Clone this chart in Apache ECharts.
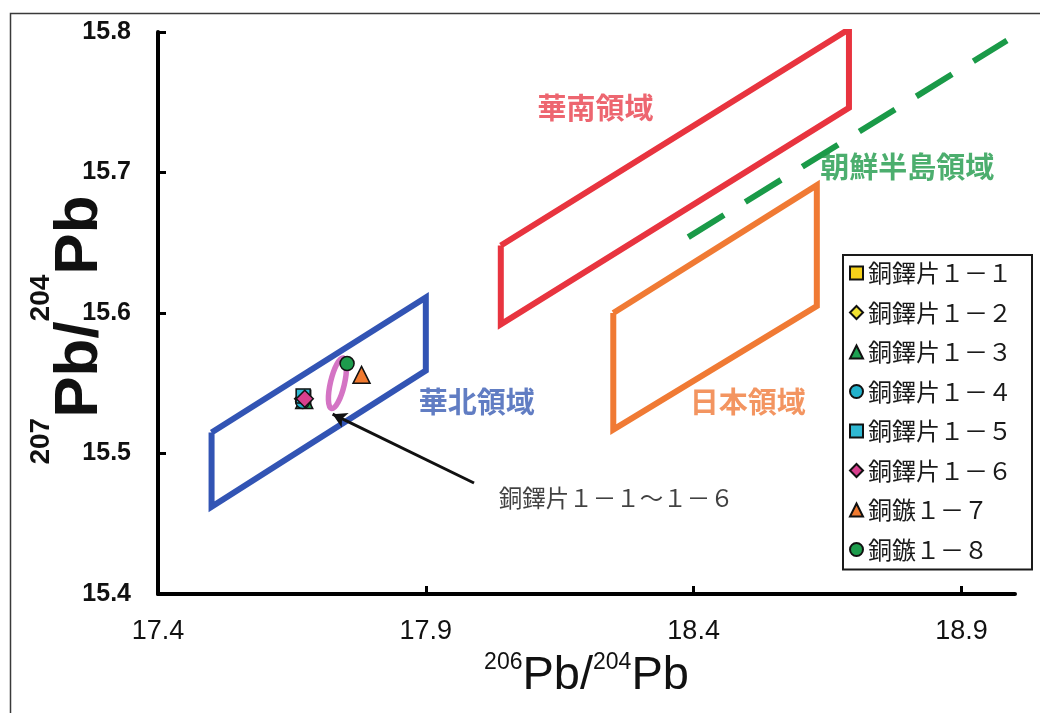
<!DOCTYPE html>
<html>
<head>
<meta charset="utf-8">
<script src="https://cdn.jsdelivr.net/npm/echarts@6/dist/echarts.min.js"></script>
<style>
  html, body { margin: 0; padding: 0; background: #ffffff; }
  #chart { width: 1040px; height: 713px; }
</style>
</head>
<body>
<div id="chart"></div>
<script>
// Lead isotope ratios of the bronze fragments
const sampleNames = ['銅鐸片１－１', '銅鐸片１－２', '銅鐸片１－３', '銅鐸片１－４',
                     '銅鐸片１－５', '銅鐸片１－６', '銅鏃１－７', '銅鏃１－８'];
const pb206 = [17.672, 17.671, 17.673, 17.670, 17.671, 17.674, 17.780, 17.753];
const pb207 = [15.540, 15.539, 15.538, 15.537, 15.541, 15.539, 15.556, 15.564];
const sampleSymbols = ['rect', 'diamond', 'triangle', 'circle', 'rect', 'diamond', 'triangle', 'circle'];
const sampleColors = ['#f6d21a', '#f2e232', '#1ea052', '#22b2cc', '#2fb8d2', '#d8408e', '#f07a30', '#1d9c4c'];

// Axis ticks
const xTicks = [17.4, 17.9, 18.4, 18.9];
const yTicks = [15.5, 15.6, 15.7, 15.8];

// Region outlines (corner points, closed)
const huabeiX = [17.5, 17.9, 17.9, 17.5, 17.5];
const huabeiY = [15.515, 15.611, 15.559, 15.462, 15.515];
const huananX = [18.04, 18.69, 18.69, 18.04, 18.04];
const huananY = [15.648, 15.802, 15.746, 15.592, 15.648];
const japanX = [18.25, 18.63, 18.63, 18.25, 18.25];
const japanY = [15.600, 15.691, 15.605, 15.517, 15.600];
// Korean peninsula trend line
const koreaX = [18.39, 18.985];
const koreaY = [15.654, 15.794];

// Cluster ring around the bronze bell fragments
const clusterCenter = [17.735, 15.550];
// Arrow from the note to the cluster
const arrowFrom = [17.99, 15.479];
const arrowTo = [17.726, 15.528];

const zip = (xs, ys) => xs.map((x, i) => [x, ys[i]]);

const JP = '"Noto Sans CJK JP", sans-serif';
const LAT = '"Liberation Sans", Arial, sans-serif';

const chart = echarts.init(document.getElementById('chart'), null, { renderer: 'canvas' });

const regionLine = (name, xs, ys, color, extra) => Object.assign({
  name: name,
  type: 'line',
  data: zip(xs, ys),
  symbol: 'none',
  silent: true,
  animation: false,
  z: 2,
  lineStyle: { color: color, width: 6, join: 'miter', cap: 'butt' }
}, extra || {});

const regionLabel = (text, x, y, color) => ({
  value: [x, y],
  label: {
    show: true,
    position: 'inside',
    formatter: text,
    color: color,
    fontSize: 29,
    fontWeight: 'bold',
    fontFamily: JP,
    align: 'center',
    verticalAlign: 'middle'
  }
});

const sampleSeries = sampleNames.map((name, i) => ({
  name: name,
  type: 'scatter',
  data: [[pb206[i], pb207[i]]],
  symbol: sampleSymbols[i],
  symbolSize: sampleSymbols[i] === 'circle' || sampleSymbols[i] === 'rect' ? 14 : 17,
  itemStyle: { color: sampleColors[i], borderColor: '#111', borderWidth: 1.5, opacity: 1 },
  z: 5 + i,
  animation: false
}));

const option = {
  backgroundColor: '#ffffff',
  animation: false,
  graphic: [
    {
      type: 'rect',
      left: 8, top: 11,
      shape: { width: 1100, height: 800 },
      style: { fill: 'none', stroke: '#3a3a3a', lineWidth: 1.5 },
      silent: true
    },
    {
      // vertical axis title
      type: 'text',
      x: 80, y: 330,
      rotation: Math.PI / 2,
      silent: true,
      style: {
        text: '{s|207}{m|Pb/}{s|204}{m|Pb}',
        align: 'center',
        verticalAlign: 'middle',
        rich: {
          s: { fontSize: 28, fontFamily: LAT, fontWeight: 'bold', fill: '#111', verticalAlign: 'top', lineHeight: 28 },
          m: { fontSize: 62, fontFamily: LAT, fontWeight: 'bold', fill: '#111', lineHeight: 106 }
        }
      }
    }
  ],
  grid: { left: 158, top: 32, width: 857, height: 562, containLabel: false },
  legend: {
    orient: 'vertical',
    left: 843, top: 255,
    data: sampleNames,
    itemWidth: 13, itemHeight: 13,
    itemGap: 15.5,
    padding: [6, 20, 8, 6],
    borderColor: '#1a1a1a', borderWidth: 2,
    backgroundColor: '#ffffff',
    selectedMode: false,
    textStyle: { fontSize: 24, lineHeight: 24, color: '#1a1a1a', fontFamily: JP }
  },
  xAxis: {
    type: 'value',
    min: 17.4, max: 19.0,
    name: '{s|206}{m|Pb/}{s|204}{m|Pb}',
    nameLocation: 'middle',
    nameGap: 57,
    nameTextStyle: {
      rich: {
        s: { fontSize: 23, fontFamily: LAT, color: '#111', verticalAlign: 'top', lineHeight: 24 },
        m: { fontSize: 47, fontFamily: LAT, color: '#111', lineHeight: 50 }
      }
    },
    axisLine: { show: true, lineStyle: { color: '#000', width: 4 } },
    axisTick: { show: true, inside: true, length: 8, lineStyle: { color: '#000', width: 3 }, customValues: xTicks },
    axisLabel: {
      customValues: xTicks,
      margin: 24,
      fontSize: 27,
      color: '#111',
      fontFamily: '"Liberation Sans Narrow", "Liberation Sans", Arial, sans-serif',
      formatter: v => v.toFixed(1)
    },
    splitLine: { show: false }
  },
  yAxis: {
    type: 'value',
    min: 15.4, max: 15.8,
    axisLine: { show: true, lineStyle: { color: '#000', width: 4 } },
    axisTick: { show: true, inside: true, length: 8, lineStyle: { color: '#000', width: 3 }, customValues: yTicks },
    axisLabel: {
      customValues: [15.4].concat(yTicks),
      margin: 27,
      fontSize: 25,
      fontWeight: 'bold',
      color: '#111',
      fontFamily: LAT,
      formatter: v => v.toFixed(1)
    },
    splitLine: { show: false }
  },
  series: [
    regionLine('華北', huabeiX, huabeiY, '#3254b4'),
    regionLine('華南', huananX, huananY, '#e8343f'),
    regionLine('日本', japanX, japanY, '#f07a34'),
    regionLine('朝鮮半島', koreaX, koreaY, '#1a9a48', {
      lineStyle: { color: '#1a9a48', width: 6, type: [42, 25], cap: 'butt' }
    }),
    {
      name: 'ring',
      type: 'custom',
      silent: true,
      z: 4,
      data: [clusterCenter],
      renderItem: (params, api) => {
        const c = api.coord([api.value(0), api.value(1)]);
        return {
          type: 'ellipse',
          x: c[0], y: c[1],
          rotation: -0.23,
          shape: { cx: 0, cy: 0, rx: 7, ry: 26 },
          style: { fill: 'none', stroke: '#d474c4', lineWidth: 5.5 }
        };
      }
    },
    {
      name: 'arrow',
      type: 'scatter',
      data: [],
      silent: true,
      markLine: {
        silent: true,
        symbol: ['none', 'arrow'],
        symbolSize: [12, 14],
        label: { show: false },
        lineStyle: { color: '#111', width: 3, type: 'solid' },
        data: [[{ coord: arrowFrom }, { coord: arrowTo }]]
      }
    },
    {
      name: 'notes',
      type: 'scatter',
      symbolSize: 0,
      silent: true,
      z: 3,
      data: [
        regionLabel('華南領域', 18.217, 15.746, '#e8404c'),
        regionLabel('朝鮮半島領域', 18.799, 15.704, '#1f9a4a'),
        regionLabel('日本領域', 18.501, 15.537, '#f07a3a'),
        regionLabel('華北領域', 17.995, 15.537, '#3a5cb4'),
        {
          value: [18.036, 15.468],
          label: {
            show: true, position: 'inside', formatter: '銅鐸片１－１～１－６',
            color: '#111', fontSize: 23.5, fontFamily: JP, align: 'left', verticalAlign: 'middle'
          }
        }
      ]
    }
  ].concat(sampleSeries)
};

chart.setOption(option);
</script>
</body>
</html>
